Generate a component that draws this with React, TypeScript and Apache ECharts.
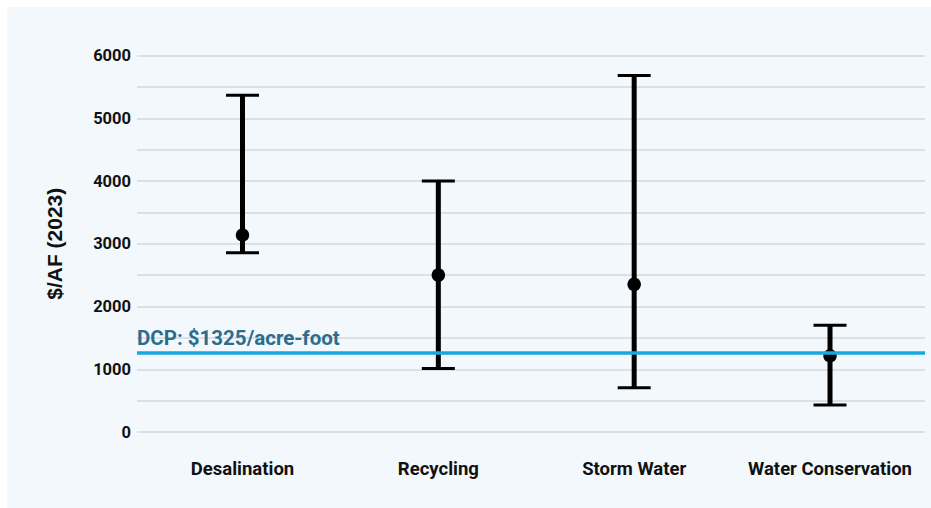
import React, { useEffect, useRef } from "react";
import * as echarts from "echarts";

const categories = ["Desalination", "Recycling", "Storm Water", "Water Conservation"];
const lowValues = [2857, 1010, 707, 430];
const highValues = [5366, 4000, 5680, 1700];
const midValues = [3139, 2500, 2353, 1215];
const dcpValue = 1270;
const dcpLabel = "DCP: $1325/acre-foot";
const yAxisName = "$/AF (2023)";

const FONT = "Roboto, 'DejaVu Sans Condensed', sans-serif";

export default function App() {
  const ref = useRef<HTMLDivElement>(null);
  useEffect(() => {
    if (!ref.current) return;
    const chart = echarts.init(ref.current, null, { renderer: "svg" });
    const barData = categories.map((_, i) => [i, lowValues[i], highValues[i]]);
    const pointData = categories.map((_, i) => [i, midValues[i]]);
    chart.setOption({
      animation: false,
      backgroundColor: "#f2f8fc",
      grid: { left: 130, right: 6, top: 48.5, bottom: 76, containLabel: false },
      xAxis: {
        type: "value",
        min: -0.5387,
        max: 3.485,
        axisLine: { show: false },
        axisTick: { show: false },
        splitLine: { show: false },
        axisLabel: {
          customValues: [0, 1, 2, 3],
          formatter: (v: number) => categories[Math.round(v)] ?? "",
          fontFamily: FONT,
          fontWeight: "bold",
          fontSize: 18.5,
          color: "#111",
          margin: 27,
        },
      },
      yAxis: {
        type: "value",
        min: 0,
        max: 6000,
        interval: 500,
        name: yAxisName,
        nameLocation: "middle",
        nameRotate: 90,
        nameGap: 72,
        nameTextStyle: {
          fontFamily: "'Liberation Sans', Arial, sans-serif",
          fontWeight: "bold",
          fontSize: 21,
          color: "#111",
        },
        axisLine: { show: false },
        axisTick: { show: false },
        splitLine: { show: true, lineStyle: { color: "#d3d9de", width: 1.5 } },
        axisLabel: {
          formatter: (v: number) => (v % 1000 === 0 ? String(v) : ""),
          fontFamily: FONT,
          fontWeight: "bold",
          fontSize: 16.5,
          color: "#111",
          margin: 6,
        },
      },
      series: [
        {
          type: "scatter",
          data: [],
          z: 1,
          silent: true,
          markLine: {
            silent: true,
            symbol: "none",
            lineStyle: { color: "#16a8e3", width: 3.5, type: "solid" },
            label: {
              show: true,
              position: "insideStartTop",
              formatter: dcpLabel,
              fontFamily: FONT,
              fontWeight: "bold",
              fontSize: 20.5,
              color: "#2b6e8c",
              distance: [0, 4],
            },
            emphasis: { disabled: true },
            data: [{ yAxis: dcpValue }],
          },
        },
        {
          type: "custom",
          z: 3,
          silent: true,
          data: barData,
          encode: { x: 0, y: [1, 2] },
          renderItem: (params: any, api: any) => {
            const x = api.value(0);
            const top = api.coord([x, api.value(2)]);
            const bot = api.coord([x, api.value(1)]);
            const half = 16.5;
            const st = { stroke: "#000", lineWidth: 3 };
            return {
              type: "group",
              children: [
                { type: "line", shape: { x1: top[0], y1: top[1], x2: bot[0], y2: bot[1] }, style: { stroke: "#000", lineWidth: 5 } },
                { type: "line", shape: { x1: top[0] - half, y1: top[1], x2: top[0] + half, y2: top[1] }, style: st },
                { type: "line", shape: { x1: bot[0] - half, y1: bot[1], x2: bot[0] + half, y2: bot[1] }, style: st },
              ],
            };
          },
        },
        {
          type: "scatter",
          z: 4,
          silent: true,
          data: pointData,
          symbol: "circle",
          symbolSize: 13.5,
          itemStyle: { color: "#000", opacity: 1 },
        },
      ],
    });
    return () => chart.dispose();
  }, []);
  return <div ref={ref} style={{ position: "fixed", left: 7, top: 7, width: 924, height: 501 }} />;
}
